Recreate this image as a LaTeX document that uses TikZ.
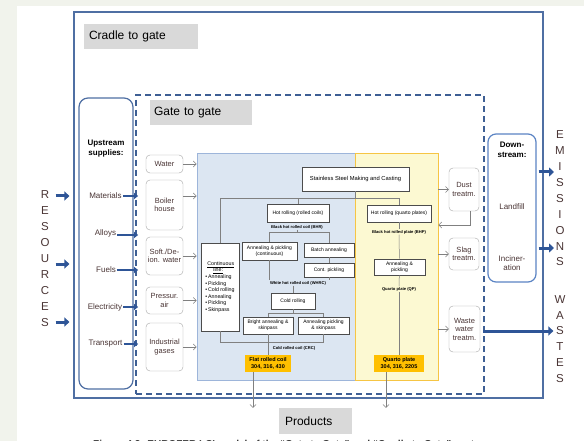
\documentclass[tikz,border=0pt]{standalone}
\usepackage{fontspec}
\setmainfont{Liberation Sans}
\usetikzlibrary{arrows.meta, positioning, calc}
\definecolor{cradblue}{HTML}{4F6FA3}
\definecolor{gateblue}{HTML}{3E5F94}
\definecolor{downblue}{HTML}{5B84C4}
\definecolor{arrblue}{HTML}{2E5597}
\definecolor{labgray}{HTML}{D9D9D9}
\definecolor{regblue}{HTML}{DCE6F2}
\definecolor{regbord}{HTML}{9DB5DA}
\definecolor{regyell}{HTML}{FCF9D2}
\definecolor{yellbord}{HTML}{F6C544}
\definecolor{prodorng}{HTML}{FFC000}
\definecolor{txtbrown}{HTML}{4A3535}
\definecolor{pagebg}{HTML}{F1F3EC}
\newcommand{\setfs}[2]{\fontsize{#1}{#2}\selectfont}

\begin{document}
\begin{tikzpicture}[x=1pt, y=-1pt,
		area/.style={inner sep=0pt},
		lbl/.style={fill=labgray, font=\setfs{12}{14}, align=left, inner ysep=0pt, minimum height=25pt},
		supp/.style={draw=gray!70, rounded corners=4pt, fill=white, text=txtbrown, align=center, inner sep=0pt, minimum width=37pt, font=\setfs{7.5}{8.5}},
		utxt/.style={text=txtbrown, font=\setfs{8}{9.5}, inner sep=1pt, align=center},
		proc/.style={draw=black!70, line width=0.9pt, fill=white, align=center, inner sep=1pt, font=\setfs{5}{6}},
		tiny/.style={font=\bfseries\setfs{4.1}{4.8}, inner sep=0.5pt},
		prod/.style={fill=prodorng, align=center, font=\bfseries\setfs{5.5}{7}, minimum height=17pt, inner sep=0pt},
		vert/.style={align=center, text=txtbrown, font=\setfs{11.5}{15.9}, inner sep=0pt},
		line/.style={draw=gray, line width=0.5pt},
		flow/.style={line, -{Straight Barb[length=3pt]}},
		sarr/.style={arrblue, line width=1.6pt, -{Triangle[length=4pt,width=6pt]}},
		barr/.style={arrblue, line width=3pt, -{Triangle[length=5pt,width=9pt]}}
	]
		\useasboundingbox (0,0) rectangle (584,441);
		\fill[pagebg] (0,0) rectangle (584,441);
		\fill[white] (17,6) rectangle (584,441);

		\node (crad) [area,draw=cradblue,line width=1.2pt,minimum width=469pt,minimum height=386pt] at (308.5,205) {};
		\node (crlb) [lbl,text width=104pt,inner xsep=5pt] at (141,36.5) {Cradle to gate};
		\node (gate) [area,draw=gateblue,line width=1.8pt,dash pattern=on 6pt off 4pt,minimum width=348pt,minimum height=299pt] at (310,244.5) {};
		\node (gtlb) [lbl,text width=94pt,inner xsep=4pt] at (201,112.5) {Gate to gate};
		\node (upst) [area,draw=cradblue,line width=1.2pt,rounded corners=9pt,minimum width=54pt,minimum height=291pt] at (106,243.5) {};
		\node (dwst) [area,draw=downblue,line width=1.2pt,rounded corners=8pt,minimum width=48pt,minimum height=148pt] at (512,208) {};

		\node (breg) [area,fill=regblue,draw=regbord,line width=0.8pt,minimum width=158pt,minimum height=227pt] at (276,266.5) {};
		\node (yreg) [area,fill=regyell,draw=yellbord,line width=0.8pt,minimum width=83pt,minimum height=227pt] at (396.5,266.5) {};

		\node (reso) [vert] at (45,258.5) {R\\E\\S\\O\\U\\R\\C\\E\\S};
		\node (emis) [vert] at (560,198.5) {E\\M\\I\\S\\S\\I\\O\\N\\S};
		\node (wast) [vert] at (560,339) {W\\A\\S\\T\\E\\S};

		\node (uphd) [font=\bfseries\setfs{8}{10},align=center,inner sep=0pt] at (106,149) {Upstream\\supplies:};
		\node (mate) [utxt] at (105.5,196) {Materials};
		\node (allo) [utxt] at (105.5,233) {Alloys};
		\node (fuel) [utxt] at (106,270) {Fuels};
		\node (elec) [utxt] at (105,307) {Electricity};
		\node (tran) [utxt] at (105.5,344) {Transport};

		\node (dnhd) [font=\bfseries\setfs{8}{10},align=center,inner sep=0pt] at (512,150) {Down-\\stream:};
		\node (land) [utxt] at (512,207) {Landfill};
		\node (inci) [utxt] at (512,263) {Inciner-\\ation};

		\node (wate) [supp,minimum height=18pt] at (164.5,164) {Water};
		\node (boil) [supp,minimum height=50pt] at (164.5,205) {Boiler\\house};
		\node (soft) [supp,minimum height=38pt] at (164.5,256) {Soft./De-\\ion. water};
		\node (pres) [supp,minimum height=27pt] at (164.5,300.5) {Pressur.\\air};
		\node (indu) [supp,minimum height=48pt] at (164.5,347) {Industrial\\gases};

		\node (dust) [supp,minimum width=30pt,minimum height=43pt] at (464,189.5) {Dust\\treatm.};
		\node (slag) [supp,minimum width=30pt,minimum height=32pt] at (464,254) {Slag\\treatm.};
		\node (wwtr) [supp,minimum width=31pt,minimum height=46pt] at (464.5,329) {Waste\\water\\treatm.};

		\node (ssmc) [proc,font=\setfs{5.8}{7},minimum width=107pt,minimum height=24pt] at (355.5,179) {Stainless Steel Making and Casting};
		\node (hrco) [proc,minimum width=62pt,minimum height=18pt] at (298,213) {Hot rolling (rolled coils)};
		\node (bhrc) [tiny] at (297,227) {Black hot rolled coil (BHR)};
		\node (apco) [proc,minimum width=55pt,minimum height=18pt] at (269.5,251) {Annealing \& pickling\\(continuous)};
		\node (bata) [proc,minimum width=50pt,minimum height=14pt] at (329,250) {Batch annealing};
		\node (cpic) [proc,minimum width=50pt,minimum height=14pt] at (329,270) {Cont. pickling};
		\node (cont) [proc,align=left,font=\setfs{5.3}{6.6},minimum width=38pt,minimum height=88pt] at (220,287) {\hspace*{2pt}\underline{Continuous}\\\hspace*{8pt}\underline{line:}\\\textbullet\,Annealing\\\textbullet\,Pickling\\\textbullet\,Cold rolling\\\textbullet\,Annealing\\\textbullet\,Pickling\\\textbullet\,Skinpass};
		\node (whrc) [tiny] at (298,283) {White hot rolled coil (WHRC)};
		\node (crol) [proc,minimum width=44pt,minimum height=16pt] at (293,301) {Cold rolling};
		\node (bran) [proc,minimum width=50pt,minimum height=17pt] at (268,325.5) {Bright annealing \&\\skinpass};
		\node (apsk) [proc,minimum width=51pt,minimum height=17pt] at (323.5,325.5) {Annealing pickling\\\& skinpass};
		\node (crcl) [tiny] at (294,348) {Cold rolled coil (CRC)};
		\node (flat) [prod,minimum width=46pt] at (268,363.5) {Flat rolled coil\\304, 316, 430};

		\node (hrqp) [proc,minimum width=64pt,minimum height=17pt] at (399,213.5) {Hot rolling (quarto plates)};
		\node (bhrp) [tiny] at (399,232) {Black hot rolled plate (BHP)};
		\node (apqp) [proc,minimum width=51pt,minimum height=16pt] at (399.5,267) {Annealing \&\\pickling};
		\node (qpla) [tiny] at (399,289) {Quarto plate (QP)};
		\node (quar) [prod,minimum width=50pt] at (399,363.5) {Quarto plate\\304, 316, 2205};

		\node (prds) [lbl,text width=61pt,inner xsep=6pt,minimum height=26pt] at (315.5,421) {Products};
		\node (capt) [font=\bfseries\setfs{10}{12},text=black!80,anchor=base west,inner sep=0pt] at (93,447) {Figure 4.2: EUROFER LCI model of the “Gate to Gate” and “Cradle to Gate” system};

		\draw [line] (ssmc.south) -- ++(0,7) coordinate (sbus);
		\draw [line] (sbus) -| (cont.north);
		\draw [line] (sbus) -| (hrco.north);
		\draw [line] (sbus) -| (hrqp.north);
		\draw [line] (bhrc.south) -- ++(0,3) coordinate (hbus);
		\draw [line] (hbus) -| (apco.north);
		\draw [line] (hbus) -| (bata.north);
		\draw [line] (bata) -- (cpic);
		\draw [line] (apco.south) -- (apco.south |- whrc.north);
		\draw [line] (cpic.south) -- (cpic.south |- whrc.north);
		\draw [line] (crol.north |- whrc.south) -- (crol.north);
		\draw [line] (crol.south) -- ++(0,4) coordinate (cbus);
		\draw [line] (cbus) -| (bran.north);
		\draw [line] (cbus) -| (apsk.north);
		\draw [line] (bran.south) -- ++(0,8) coordinate (obus);
		\draw [line] (cont.south) |- (obus);
		\draw [line] (apsk.south) |- (obus);
		\draw [line] (obus) -- (flat.north);
		\draw [line] (hrqp) -- (bhrp);
		\draw [line] (bhrp) -- (apqp);
		\draw [line] (apqp) -- (qpla);
		\draw [line] (qpla) -- (quar);

		\draw [flow] ([xshift=-15pt]flat.south) -- ([xshift=-15pt]flat.south |- prds.north);
		\draw [flow] ([xshift=-13pt]quar.south) -- ([xshift=-13pt]quar.south |- prds.north);

		\draw [flow] (wate) -- (wate -| breg.west);
		\draw [flow] ([yshift=9pt]boil.east) -- ([yshift=9pt]boil.east -| breg.west);
		\draw [flow] (soft) -- (soft -| breg.west);
		\draw [flow] (pres) -- (pres -| breg.west);
		\draw [flow] (indu) -- (indu -| breg.west);

		\coordinate (dret) at (yreg.east |- 0,225);
		\draw [flow] (dust.west -| yreg.east) -- (dust.west);
		\draw [flow] ([xshift=6pt]dust.south) |- (dret);
		\draw [flow] (slag.west -| yreg.east) -- (slag.west);
		\draw [flow] (wwtr.west -| yreg.east) -- (wwtr.west);

		\draw [sarr,shorten >=-3pt] (mate) -- (mate -| gate.west);
		\draw [sarr,shorten >=-3pt] ([yshift=-2pt]allo.east) -- ([yshift=-2pt]allo.east -| gate.west);
		\draw [sarr,shorten >=-3pt] (fuel) -- (fuel -| gate.west);
		\draw [sarr,shorten >=-3pt] (elec) -- (elec -| gate.west);
		\draw [sarr,shorten >=-3pt] (tran) -- (tran -| gate.west);

		\foreach \y in {196,264,322}
			\draw [barr,shorten <=6pt,shorten >=4pt] (reso.east |- 0,\y) -- (crad.west |- 0,\y);
		\foreach \y in {172,248}
			\draw [barr,shorten <=2pt,shorten >=1pt] (dwst.east |- 0,\y) -- (emis.west |- 0,\y);
		\draw [barr,shorten <=3pt,shorten >=1pt] (wwtr.east |- 0,331) -- (wast.west |- 0,331);
	\end{tikzpicture}
\end{document}
